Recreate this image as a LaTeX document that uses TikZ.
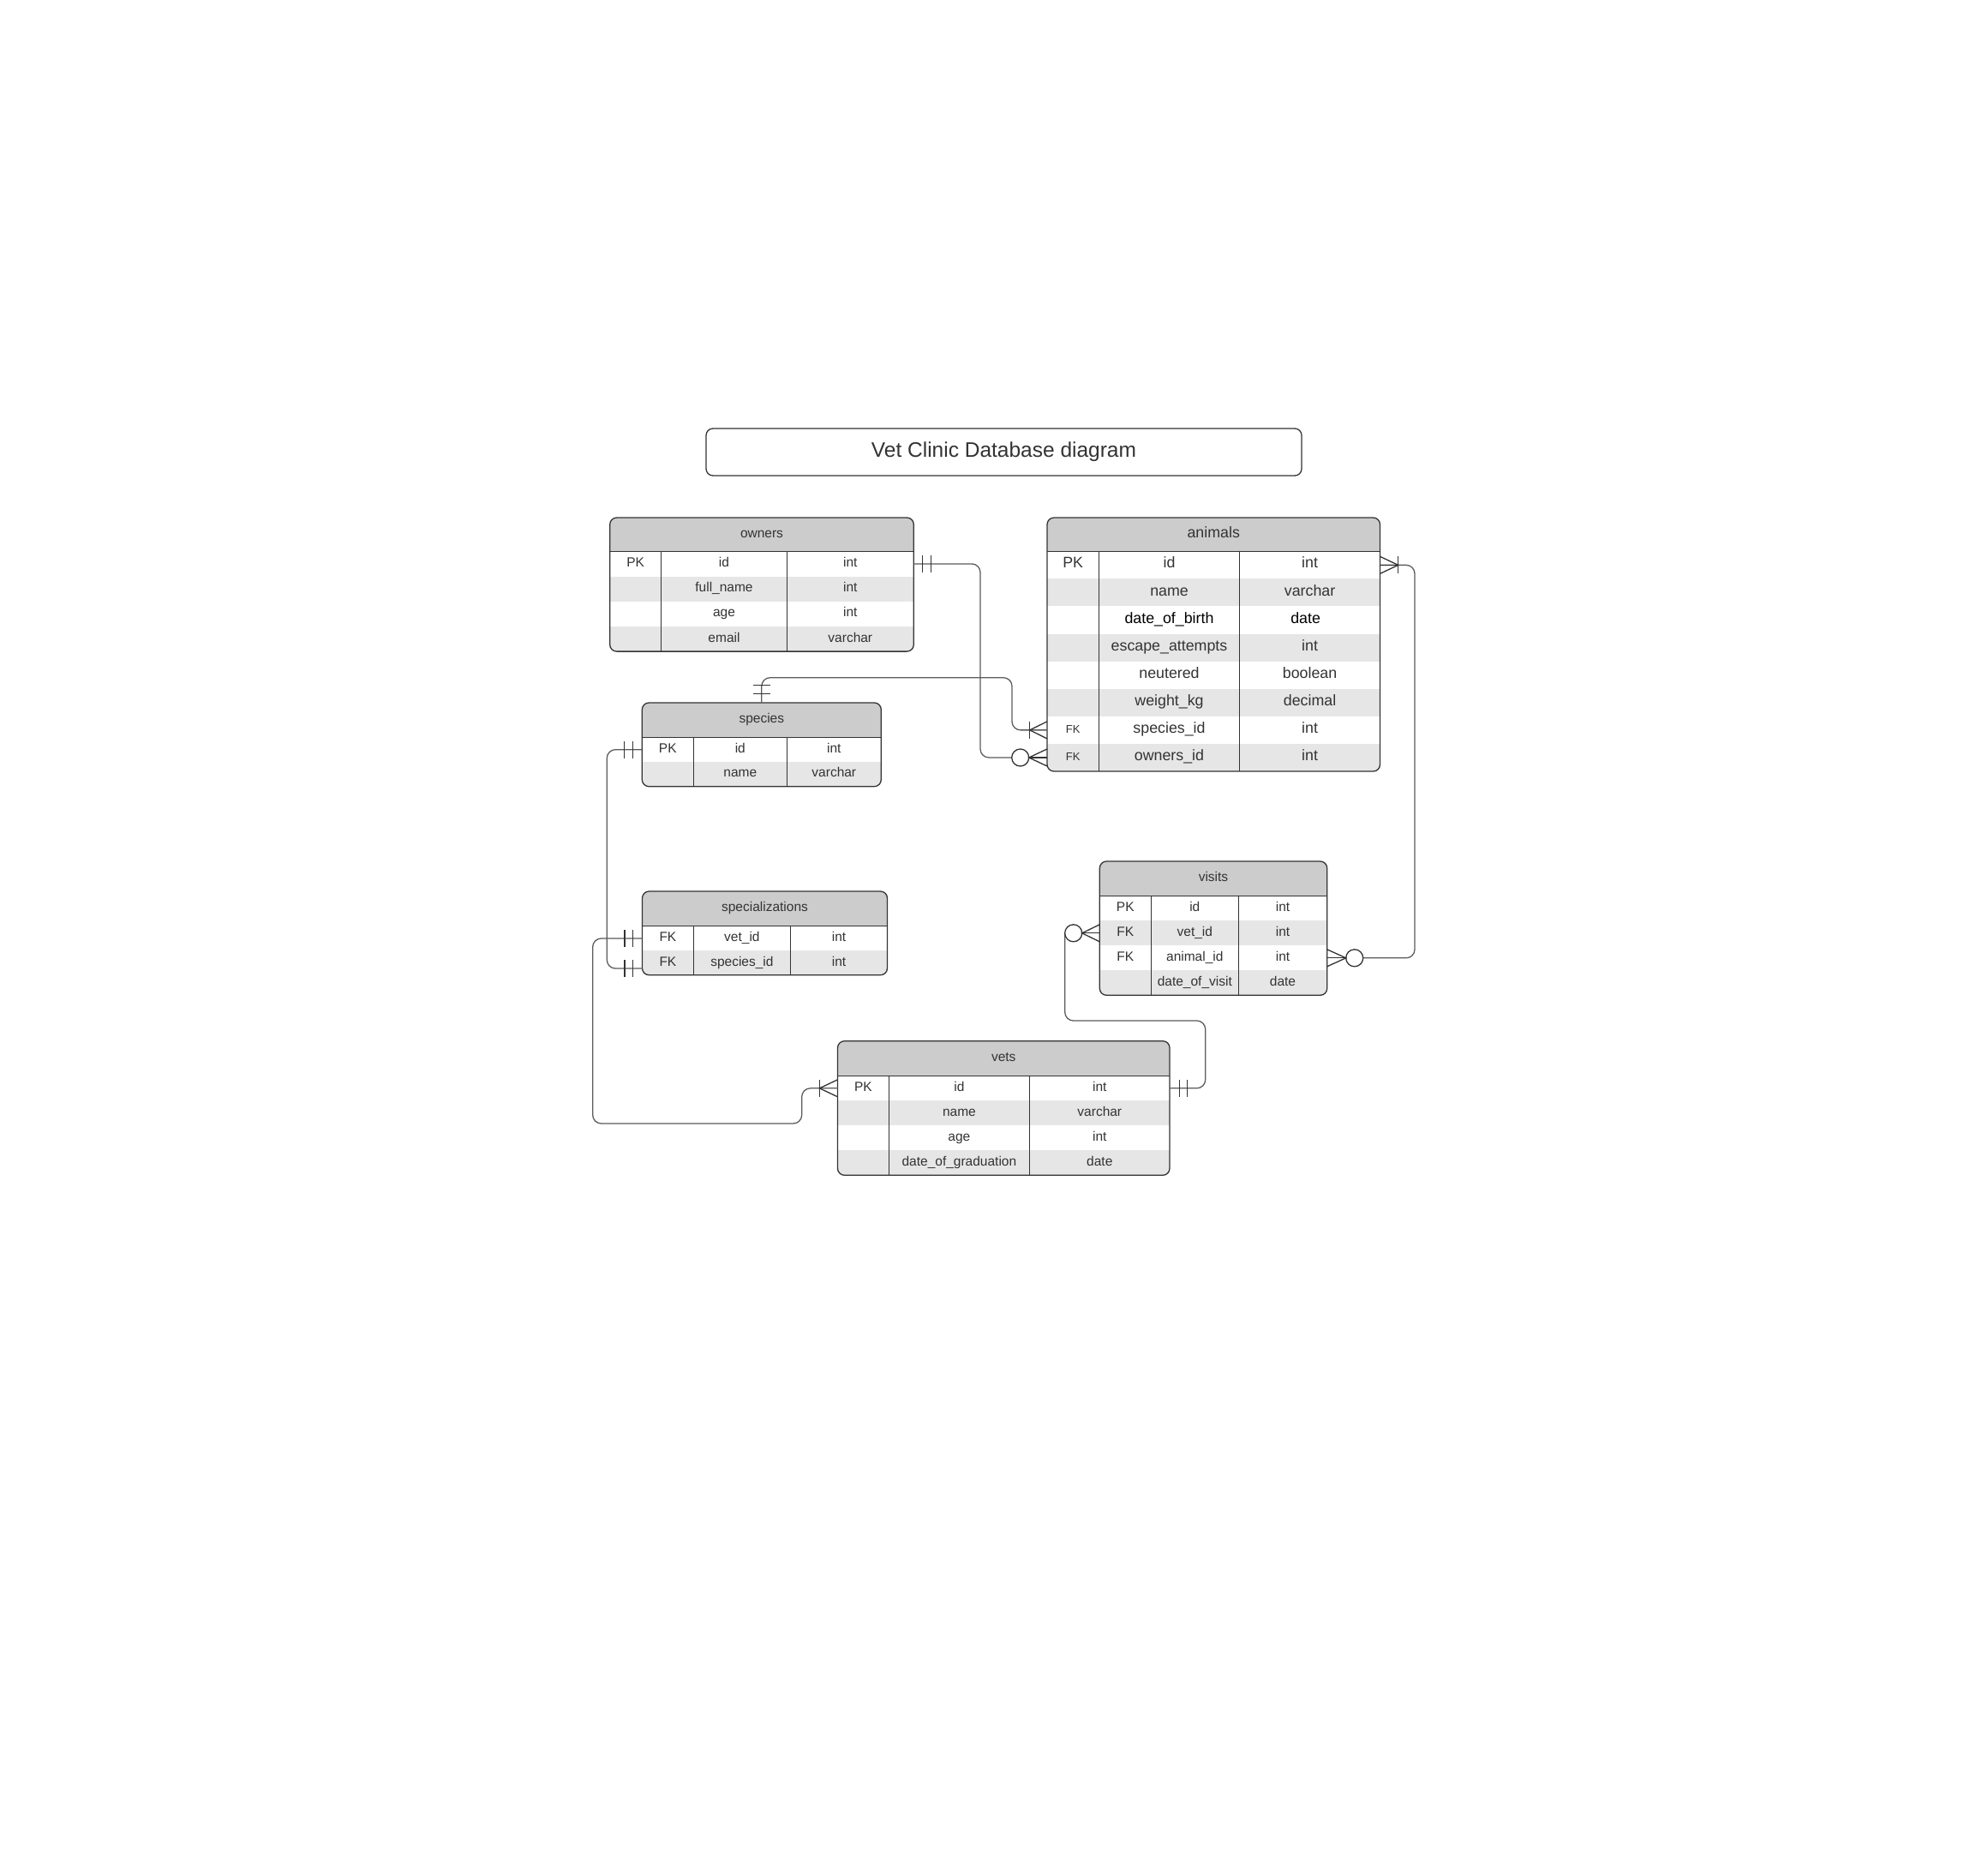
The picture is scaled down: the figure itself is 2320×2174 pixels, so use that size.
\documentclass[tikz,border=0pt]{standalone}
\usepackage{fontspec}
\setmainfont{Liberation Sans}
\usetikzlibrary{calc}
\definecolor{erhdr}{HTML}{CCCCCC}
\definecolor{erstripe}{HTML}{E6E6E6}
\definecolor{erline}{HTML}{333333}
\definecolor{erconn}{HTML}{5C5C5C}
\definecolor{ertext}{HTML}{333333}
\newcommand\erfont{\fontsize{15.5}{18}\selectfont}
\tikzset{
  erborder/.style={draw=erline, line width=1.3pt},
  ercell/.style={inner sep=0pt, text height=0.716em, text depth=0pt, font=\erfont, text=ertext},
  erconnector/.style={draw=erconn, line width=1.3pt, rounded corners=10pt},
  ermark/.style={draw=erline, line width=1.3pt},
}
\newcommand\ersettable[8]{\def\erid{#1}\def\erL{#2}\def\erT{#3}\def\erR{#4}\def\erH{#5}\def\erh{#6}\def\erA{#7}\def\erB{#8}}
\newcommand\erbox[2]{%
  \pgfmathsetmacro\erBot{\erH+#1*\erh}%
  \begin{scope}
    \clip[rounded corners=8pt] (\erL,\erT) rectangle (\erR,\erBot);
    \fill[erhdr] (\erL,\erT) rectangle (\erR,\erH);
    \foreach \i in {1,...,#1}{\ifodd\i\relax\else\fill[erstripe] (\erL,{\erH+(\i-1)*\erh}) rectangle (\erR,{\erH+\i*\erh});\fi}
  \end{scope}
  \draw[erborder] (\erL,\erH) -- (\erR,\erH);
  \draw[erborder] (\erA,\erH) -- (\erA,\erBot);
  \draw[erborder] (\erB,\erH) -- (\erB,\erBot);
  \draw[erborder, rounded corners=8pt] (\erL,\erT) rectangle (\erR,\erBot);
  \node[ercell] (\erid-title) at ({(\erL+\erR)/2},{(\erT+\erH)/2}) {#2};
  \coordinate (\erid-n) at ({(\erL+\erR)/2},\erT);
}
\newcommand\errow[4]{%
  \pgfmathsetmacro\erY{\erH+(#1-0.5)*\erh}%
  \node[ercell] (\erid-#1-k) at ({(\erL+\erA)/2},\erY) {#2};
  \node[ercell] (\erid-#1-n) at ({(\erA+\erB)/2},\erY) {#3};
  \node[ercell] (\erid-#1-t) at ({(\erB+\erR)/2},\erY) {#4};
  \coordinate (\erid-#1-w) at (\erL,\erY);
  \coordinate (\erid-#1-e) at (\erR,\erY);
}
\begin{document}
\begin{tikzpicture}[x=1pt,y=-1pt]
\useasboundingbox (0,0) rectangle (2320,2174);
\fill[white] (0,0) rectangle (2320,2174);

% title
\draw[erborder, rounded corners=8pt] (824,500) rectangle (1519,555);
\node[inner sep=0pt, text height=17.5pt, text depth=0pt, text=ertext, font=\fontsize{24.5}{28}\selectfont] (title) at (1171.5,524.7) {Vet Clinic Database diagram};

% owners
\ersettable{owners}{711.7}{604}{1066.3}{643.3}{29.2}{771.7}{918.3}
\erbox{4}{owners}
\errow{1}{PK}{id}{int}
\errow{2}{}{full\_name}{int}
\errow{3}{}{age}{int}
\errow{4}{}{email}{varchar}

% animals
\begin{scope}
\renewcommand\erfont{\fontsize{17.8}{21}\selectfont}
\ersettable{animals}{1222}{604}{1610.5}{643.3}{32.09}{1282.3}{1446.7}
\erbox{8}{animals}
\errow{1}{PK}{id}{int}
\errow{2}{}{name}{varchar}
\errow{3}{}{\color{black}date\_of\_birth}{\color{black}date\hspace*{10pt}}
\errow{4}{}{escape\_attempts}{int}
\errow{5}{}{neutered}{boolean}
\errow{6}{}{weight\_kg}{decimal}
\errow{7}{\fontsize{13}{15}\selectfont FK}{species\_id}{int}
\errow{8}{\fontsize{13}{15}\selectfont FK}{owners\_id}{int}
\end{scope}

% species
\ersettable{species}{749.3}{820}{1028.3}{860.3}{28.7}{809.3}{918.3}
\erbox{2}{species}
\errow{1}{PK}{id}{int}
\errow{2}{}{name}{varchar}

% specializations
\ersettable{specializations}{749.5}{1040}{1035.5}{1080.7}{28.5}{809.3}{922.5}
\erbox{2}{specializations}
\errow{1}{FK}{vet\_id}{int}
\errow{2}{FK}{species\_id}{int}

% visits
\ersettable{visits}{1283.3}{1005}{1548.7}{1045.3}{29}{1343.3}{1445.3}
\erbox{4}{visits}
\errow{1}{PK}{id}{int}
\errow{2}{FK}{vet\_id}{int}
\errow{3}{FK}{animal\_id}{int}
\errow{4}{}{date\_of\_visit}{date}

% vets
\ersettable{vets}{977.5}{1214.7}{1365}{1255.3}{29}{1037.2}{1201.6}
\erbox{4}{vets}
\errow{1}{PK}{id}{int}
\errow{2}{}{name}{varchar}
\errow{3}{}{age}{int}
\errow{4}{}{date\_of\_graduation}{date}

% ---- connectors ----
% owners.id -> animals.owners_id
\draw[erconnector] (owners-1-e) -- ($(owners-1-e)+(77.7,0)$) |- ($(animals-8-w)+(-41.3,0)$);
\draw[ermark] ($(owners-1-e)+(10.4,-10)$) -- ++(0,20);
\draw[ermark] ($(owners-1-e)+(20.4,-10)$) -- ++(0,20);
\draw[ermark, fill=white] ($(animals-8-w)+(-31.3,0)$) circle[radius=10];
\draw[ermark] ($(animals-8-w)+(0,-10)$) -- ($(animals-8-w)+(-21.3,0)$) -- ($(animals-8-w)+(0,10)$);
\draw[ermark] ($(animals-8-w)+(-21.3,0)$) -- (animals-8-w);

% species -> animals.species_id
\draw[erconnector] (species-n) -- ($(species-n)+(0,-29.3)$) -| ($(animals-7-w)+(-41,0)$) -- (animals-7-w);
\draw[ermark] ($(species-n)+(-10,-10.7)$) -- ++(20,0);
\draw[ermark] ($(species-n)+(-10,-20.7)$) -- ++(20,0);
\draw[ermark] ($(animals-7-w)+(-20.3,-10)$) -- ++(0,20);
\draw[ermark] ($(animals-7-w)+(0,-10)$) -- ($(animals-7-w)+(-20.3,0)$) -- ($(animals-7-w)+(0,10)$);

% species.id -> specializations.species_id
\draw[erconnector] (species-1-w) -- ($(species-1-w)+(-41,0)$) |- ($(specializations-2-w)+(0,6.6)$);
\draw[ermark] ($(species-1-w)+(-11,-10)$) -- ++(0,20);
\draw[ermark] ($(species-1-w)+(-21,-10)$) -- ++(0,20);
\draw[ermark] ($(specializations-2-w)+(-11.2,-3.4)$) -- ++(0,20);
\draw[ermark] ($(specializations-2-w)+(-20.5,-3.4)$) -- ++(0,20);

% specializations.vet_id -> vets.id
\draw[erconnector] (specializations-1-w) -- ($(specializations-1-w)+(-57.8,0)$) |- ($(vets-1-w)+(-41.8,41.2)$) |- (vets-1-w);
\draw[ermark] ($(specializations-1-w)+(-11.2,-10)$) -- ++(0,20);
\draw[ermark] ($(specializations-1-w)+(-20.5,-10)$) -- ++(0,20);
\draw[ermark] ($(vets-1-w)+(-21.1,-10)$) -- ++(0,20);
\draw[ermark] ($(vets-1-w)+(0,-10)$) -- ($(vets-1-w)+(-21.1,0)$) -- ($(vets-1-w)+(0,10)$);

% vets.id -> visits.vet_id
\draw[erconnector] (vets-1-e) -- ($(vets-1-e)+(41.7,0)$) |- ($(visits-2-w)+(-40.6,102.2)$) -- ($(visits-2-w)+(-40.6,0)$);
\draw[ermark] ($(vets-1-e)+(11.5,-10)$) -- ++(0,20);
\draw[ermark] ($(vets-1-e)+(20.7,-10)$) -- ++(0,20);
\draw[ermark, fill=white] ($(visits-2-w)+(-30.6,0)$) circle[radius=10];
\draw[ermark] ($(visits-2-w)+(0,-10)$) -- ($(visits-2-w)+(-20.6,0)$) -- ($(visits-2-w)+(0,10)$);
\draw[ermark] ($(visits-2-w)+(-20.6,0)$) -- (visits-2-w);

% visits.animal_id -> animals.id
\draw[erconnector] ($(visits-3-e)+(42,0)$) -- ($(visits-3-e)+(102.3,0)$) |- (animals-1-e);
\draw[ermark, fill=white] ($(visits-3-e)+(32,0)$) circle[radius=10];
\draw[ermark] ($(visits-3-e)+(0,-10)$) -- ($(visits-3-e)+(22,0)$) -- ($(visits-3-e)+(0,10)$);
\draw[ermark] ($(visits-3-e)+(22,0)$) -- (visits-3-e);
\draw[ermark] ($(animals-1-e)+(21.2,-10)$) -- ++(0,20);
\draw[ermark] ($(animals-1-e)+(0,-10)$) -- ($(animals-1-e)+(21.2,0)$) -- ($(animals-1-e)+(0,10)$);
\draw[ermark] ($(animals-1-e)+(21.2,0)$) -- (animals-1-e);
\end{tikzpicture}
\end{document}
